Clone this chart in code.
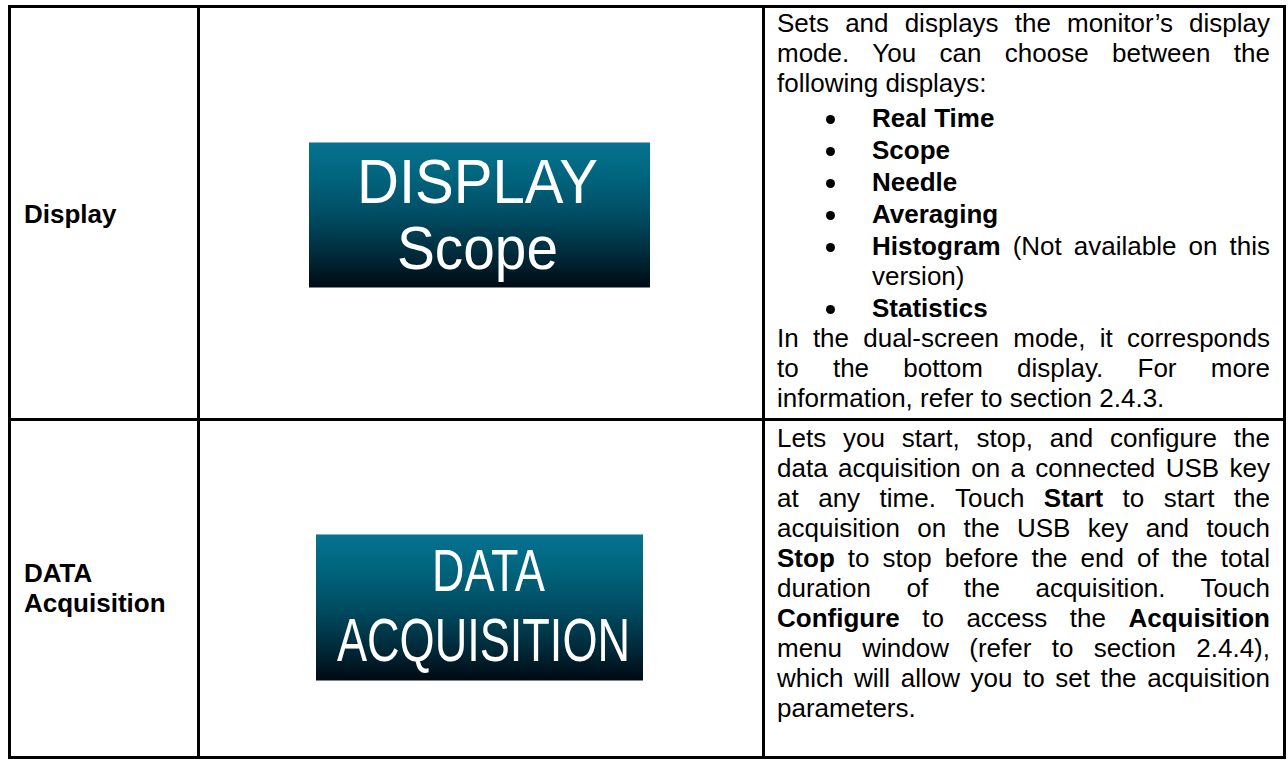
<!DOCTYPE html>
<html>
<head>
<meta charset="utf-8">
<script src="https://cdn.jsdelivr.net/npm/chart.js@4.4.1/dist/chart.umd.min.js"></script>
<style>
html,body{margin:0;padding:0;background:#fff;width:1288px;height:760px;overflow:hidden;}
#page{position:relative;width:1288px;height:760px;font-family:"Liberation Sans",Arial,sans-serif;color:#000;}
.rule{position:absolute;background:#000;}
.ln{position:absolute;font-size:26px;line-height:30px;height:30px;overflow:visible;}
.j{text-align:justify;text-align-last:justify;}
.dot{position:absolute;width:9px;height:9px;border-radius:50%;background:#000;}
.btn{position:absolute;background:linear-gradient(to bottom,#07728f 0%,#00667f 22%,#004d63 50%,#002a3a 78%,#000a13 100%);border-top:1px solid #7fb0c4;border-bottom:1px solid #7b8692;box-sizing:border-box;}
.bt{position:absolute;color:#fff;white-space:nowrap;transform-origin:0 0;font-family:"Liberation Sans",Arial,sans-serif;}
b{font-weight:bold;}
</style>
</head>
<body>
<div id="page"></div>
<script>
// ---- content ----
const features = ["Display", "DATA|Acquisition"];
const buttonLabels = [["DISPLAY", "Scope"], ["DATA", "ACQUISITION"]];
const displayIntro = ["Sets and displays the monitor’s display", "mode. You can choose between the", "following displays:"];
const displayModes = ["Real Time", "Scope", "Needle", "Averaging", "Histogram", "Statistics"];
const modeNotes = ["", "", "", "", " (Not available on this|version)", ""];
const displayOutro = ["In the dual-screen mode, it corresponds", "to the bottom display. For more", "information, refer to section 2.4.3."];
const acquisitionText = [
  "Lets you start, stop, and configure the",
  "data acquisition on a connected USB key",
  "at any time. Touch **Start** to start the",
  "acquisition on the USB key and touch",
  "**Stop** to stop before the end of the total",
  "duration of the acquisition. Touch",
  "**Configure** to access the **Acquisition**",
  "menu window (refer to section 2.4.4),",
  "which will allow you to set the acquisition",
  "parameters."
];

// ---- layout ----
const page = document.getElementById('page');
function el(cls, css, html){
  const d = document.createElement('div');
  d.className = cls;
  Object.assign(d.style, css);
  if (html !== undefined) d.innerHTML = html;
  page.appendChild(d);
  return d;
}
function md(s){ return s.replace(/\*\*(.+?)\*\*/g, '<b>$1</b>'); }
function line(text, x, top, w, just, bold){
  el('ln' + (just ? ' j' : ''), {left:x+'px', top:top+'px', width:w+'px', fontWeight: bold ? 'bold' : 'normal'}, md(text));
}

// table rules
const L = 8, R = 1286, T = 5, B = 759, C1 = 197, C2 = 762, MID = 418, W = 3;
el('rule', {left:L+'px', top:T+'px', width:(R-L)+'px', height:W+'px'});
el('rule', {left:L+'px', top:MID+'px', width:(R-L)+'px', height:W+'px'});
el('rule', {left:L+'px', top:(B-W)+'px', width:(R-L)+'px', height:W+'px'});
[L, C1, C2, R-W].forEach(x => el('rule', {left:x+'px', top:T+'px', width:W+'px', height:(B-T)+'px'}));

// column 1 labels
line(features[0], 24, 199, 170, false, true);
features[1].split('|').forEach((t, i) => line(t, 24, 558 + i*30, 170, false, true));

// column 3 text, row 1
const TX = 777, TW = 493, BX = 872, BW = 398, DOTX = 826;
let y = 8;
displayIntro.forEach((t, i) => { line(t, TX, y, TW, i < displayIntro.length - 1); y += 30; });
y += 3;
displayModes.forEach((m, i) => {
  y += 2;
  el('dot', {left:DOTX+'px', top:(y+12)+'px'});
  const note = modeNotes[i] ? modeNotes[i].split('|') : [''];
  note.forEach((n, k) => {
    const txt = (k === 0 ? '**' + m + '**' : '') + n;
    line(txt, BX, y, BW, k < note.length - 1);
    y += 30;
  });
});
displayOutro.forEach((t, i) => { line(t, TX, y, TW, i < displayOutro.length - 1); y += 30; });

// column 3 text, row 2
acquisitionText.forEach((t, i) => line(t, TX, 423 + i*30, TW, i < acquisitionText.length - 1));

// buttons
el('btn', {left:'309px', top:'142px', width:'341px', height:'146px'});
el('btn', {left:'316px', top:'534px', width:'327px', height:'147px'});
const btnText = [
  [buttonLabels[0][0], 477.5, 203, 63, 241],
  [buttonLabels[0][1], 477.5, 270, 61, 161],
  [buttonLabels[1][0], 488.5, 592, 59, 113],
  [buttonLabels[1][1], 483.5, 662, 61, 293]
];
btnText.forEach(([t, cx, base, fs, tw]) => {
  const s = el('bt', {fontSize:fs+'px', lineHeight:fs+'px', top:(base - 0.8465*fs)+'px', left:'0px'}, t);
  const w = s.getBoundingClientRect().width;
  const k = tw / w;
  s.style.left = (cx - tw/2) + 'px';
  s.style.transform = 'scaleX(' + k + ')';
});
</script>
</body>
</html>
